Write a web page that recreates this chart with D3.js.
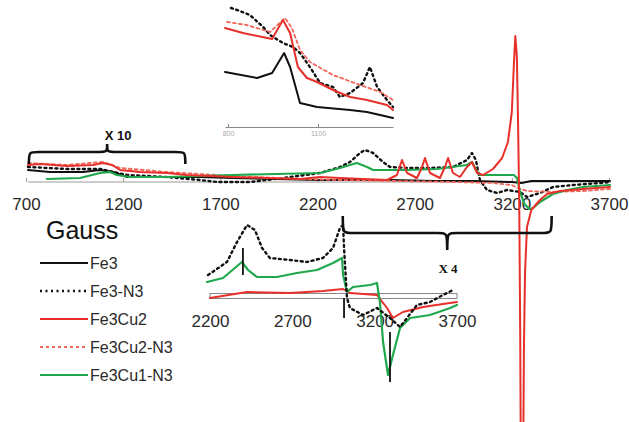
<!DOCTYPE html>
<html><head><meta charset="utf-8">
<script src="https://cdn.jsdelivr.net/npm/d3@7"></script>
<style>
html,body{margin:0;padding:0;background:#fff;}
svg{display:block;font-family:"Liberation Sans",Arial,sans-serif;}
</style></head>
<body>
<svg id="chart" width="629" height="422"></svg>
<script>
// ---------- DATA (Gauss, relative intensity) ----------
const seriesNames = ["Fe3","Fe3-N3","Fe3Cu2","Fe3Cu2-N3","Fe3Cu1-N3"];
const mainTicks = [700,1200,1700,2200,2700,3200,3700];
const topInsetTicks = [800,1100];
const bottomInsetTicks = [2200,2700,3200,3700];

// main spectrum
const mainFe3 = [[710,12],[824,10],[993,10],[1081,12],[1148,10],[1220,5],[1338,5],[1595,5],[1765,4],[2213,2],[2400,2],[2573,2],[2800,1],[3000,1],[3200,0],[3250,-1],[3300,1],[3450,1],[3600,1],[3705,1]];
const mainFe3N3 = [[710,15],[911,13],[1081,13],[1220,7],[1426,5],[1595,2],[1683,0],[1853,0],[2023,4],[2213,9],[2316,15],[2367,20],[2419,29],[2444,32],[2486,29],[2537,20],[2573,15],[2661,14],[2779,14],[2897,15],[2969,22],[2995,29],[3015,22],[3036,2],[3072,-8],[3124,-11],[3175,-8],[3242,-10],[3278,-15],[3345,-11],[3412,-5],[3515,-3],[3654,-1],[3705,0]];
const mainFe3Cu2 = [[710,17],[772,18],[911,16],[1045,17],[1096,19],[1143,17],[1184,12],[1287,10],[1426,9],[1529,7],[1765,5],[1940,4],[2110,3],[2213,5],[2316,4],[2558,2],[2609,7],[2635,22],[2661,9],[2712,4],[2738,15],[2753,24],[2779,9],[2830,4],[2856,15],[2872,24],[2897,9],[2933,5],[2969,15],[2995,20],[3021,9],[3052,7],[3103,13],[3150,24],[3180,40],[3200,70],[3210,115],[3218,146],[3226,125],[3232,60],[3238,-20],[3243,-150],[3247,-300],[3258,-300],[3262,-170],[3268,-90],[3278,-45],[3300,-28],[3345,-18],[3381,-12],[3448,-9],[3566,-7],[3705,-5]];
const mainFe3Cu2N3 = [[710,19],[911,17],[1096,20],[1184,14],[1426,10],[1765,6],[2110,3],[2316,2],[2600,1],[2900,0],[3100,-1],[3200,-3],[3230,-6],[3278,-9],[3400,-10],[3566,-9],[3705,-7]];
const mainFe3Cu1N3 = [[808,3],[978,4],[1081,9],[1132,10],[1168,7],[1235,5],[1426,5],[1595,6],[1765,7],[2213,9],[2316,14],[2367,17],[2403,19],[2455,15],[2486,12],[2661,12],[2815,13],[2969,17],[2995,20],[3021,10],[3036,7],[3150,7],[3210,7],[3227,4],[3242,-10],[3265,-22],[3290,-27],[3309,-26],[3345,-20],[3412,-12],[3484,-8],[3566,-5],[3705,-3]];

// top inset (low-field region, x10)
const topFe3 = [[790,55],[897,49],[947,54],[987,74],[1007,60],[1040,24],[1097,20],[1207,17],[1263,15],[1307,12],[1350,9]];
const topFe3N3 = [[810,119],[830,117],[873,112],[917,100],[940,92],[983,84],[1017,80],[1040,74],[1073,60],[1107,44],[1150,40],[1173,30],[1207,34],[1250,44],[1273,60],[1297,40],[1330,27],[1350,20]];
const topFe3Cu2 = [[790,99],[850,94],[947,88],[983,107],[1007,94],[1033,60],[1063,49],[1097,45],[1150,37],[1207,30],[1263,27],[1330,22],[1350,17]];
const topFe3Cu2N3 = [[797,105],[863,102],[940,95],[990,109],[1013,99],[1040,77],[1073,65],[1150,52],[1240,42],[1307,35],[1350,27]];

// bottom inset (x4)
const botFe3N3 = [[2188,21],[2303,34],[2364,54],[2425,71],[2473,66],[2516,48],[2564,38],[2686,36],[2789,34],[2886,38],[2947,48],[2989,68],[3008,71],[3014,48],[3032,-2],[3050,-12],[3129,-19],[3214,-12],[3293,-22],[3354,-31],[3396,-22],[3457,-9],[3536,-6],[3615,1],[3676,6]];
const botFe3Cu1N3 = [[2182,14],[2279,18],[2394,34],[2431,26],[2485,19],[2607,19],[2728,23],[2850,26],[2947,33],[3002,38],[3008,21],[3032,4],[3068,9],[3172,11],[3214,13],[3232,-6],[3251,-46],[3281,-79],[3311,-59],[3354,-32],[3415,-22],[3536,-19],[3658,-12],[3700,-9]];
const botFe3Cu2 = [[2200,-2],[2425,4],[2686,3],[2886,5],[3008,7],[3050,3],[3214,1],[3275,-12],[3311,-22],[3372,-16],[3494,-11],[3615,-8],[3700,-6]];
const botMarkers = [[2400,48,21],[3014,-2,-22],[3293,-36,-86]];

// ---------- STYLES ----------
const RED = "#e8302a", RED2 = "#f0675c", GREEN = "#1fa84c", BLACK = "#111";
const styles = {
  "Fe3":       {color:BLACK, dash:null, w:2},
  "Fe3-N3":    {color:BLACK, dash:"2,3.5", w:2.4},
  "Fe3Cu2":    {color:RED, dash:null, w:2},
  "Fe3Cu2-N3": {color:RED2, dash:"3,3", w:1.8},
  "Fe3Cu1-N3": {color:GREEN, dash:null, w:2.2}
};

const svg = d3.select("#chart");

// ---------- MAIN ----------
const x = d3.scaleLinear().domain([700,3700]).range([26,609]);
const y = d3.scaleLinear().domain([-100,100]).range([282,82]);
const axisY = 182;

function drawLine(g, data, sx, sy, name){
  const st = styles[name];
  g.append("path").datum(data)
   .attr("fill","none").attr("stroke",st.color).attr("stroke-width",st.w)
   .attr("stroke-linejoin","round").attr("stroke-linecap","round")
   .attr("stroke-dasharray",st.dash)
   .attr("d", d3.line().x(d=>sx(d[0])).y(d=>sy(d[1])));
}

// main axis
const mainAxis = svg.append("g").attr("transform",`translate(0,${axisY})`)
  .call(d3.axisBottom(x).tickValues(mainTicks).tickFormat(d3.format("d")).tickSizeInner(-4).tickSizeOuter(0));
mainAxis.select(".domain").attr("stroke","#999").attr("stroke-width",1.2)
  .attr("d",`M${x(710)},0H${x(3710)}`);
mainAxis.selectAll(".tick line").attr("stroke","#999");
mainAxis.selectAll(".tick text").attr("y",16).attr("font-size",17).attr("fill","#2a2a2a")
  .attr("font-family","Liberation Sans, Arial, sans-serif");

const gMain = svg.append("g");
drawLine(gMain, mainFe3, x, y, "Fe3");
drawLine(gMain, mainFe3N3, x, y, "Fe3-N3");
drawLine(gMain, mainFe3Cu2N3, x, y, "Fe3Cu2-N3");
drawLine(gMain, mainFe3Cu1N3, x, y, "Fe3Cu1-N3");
drawLine(gMain, mainFe3Cu2, x, y, "Fe3Cu2");

// ---------- TOP INSET ----------
const xt = d3.scaleLinear().domain([790,1350]).range([225,393]);
const yt = d3.scaleLinear().domain([0,127]).range([127,0]);
const topAxis = svg.append("g").attr("transform","translate(0,127)")
  .call(d3.axisBottom(xt).tickValues(topInsetTicks).tickFormat(d3.format("d")).tickSizeInner(-3).tickSizeOuter(0));
topAxis.select(".domain").attr("stroke","#8a8a8a").attr("stroke-width",1.2);
topAxis.selectAll(".tick line").attr("stroke","#8a8a8a");
topAxis.selectAll(".tick text").attr("y",4).attr("font-size",7).attr("fill","#aaa");
const gTop = svg.append("g");
drawLine(gTop, topFe3, xt, yt, "Fe3");
drawLine(gTop, topFe3N3, xt, yt, "Fe3-N3");
drawLine(gTop, topFe3Cu2N3, xt, yt, "Fe3Cu2-N3");
drawLine(gTop, topFe3Cu2, xt, yt, "Fe3Cu2");

// ---------- BOTTOM INSET ----------
const xb = d3.scaleLinear().domain([2200,3700]).range([210,457]);
const yb = d3.scaleLinear().domain([0,100]).range([296,196]);
svg.append("rect").attr("x",xb(2200)).attr("y",293.5).attr("width",xb(3700)-xb(2200)).attr("height",5)
  .attr("fill","none").attr("stroke","#888").attr("stroke-width",1);
const botAxis = svg.append("g").attr("transform","translate(0,299)")
  .call(d3.axisBottom(xb).tickValues(bottomInsetTicks).tickFormat(d3.format("d")).tickSize(0));
botAxis.select(".domain").remove();
botAxis.selectAll(".tick text").attr("y",16).attr("font-size",17).attr("fill","#2a2a2a")
  .attr("font-family","Liberation Sans, Arial, sans-serif");
const gBot = svg.append("g");
drawLine(gBot, botFe3Cu2, xb, yb, "Fe3Cu2");
drawLine(gBot, botFe3Cu1N3, xb, yb, "Fe3Cu1-N3");
drawLine(gBot, botFe3N3, xb, yb, "Fe3-N3");
gBot.selectAll("line.marker").data(botMarkers).enter().append("line")
  .attr("x1",d=>xb(d[0])).attr("x2",d=>xb(d[0]))
  .attr("y1",d=>yb(d[1])).attr("y2",d=>yb(d[2]))
  .attr("stroke","#111").attr("stroke-width",1.8);

// ---------- BRACES ----------
function brace(x1,x2,yy,s,h1,h2){
  const xm=(x1+x2)/2, r=10;
  return `M${x1},${yy-s*h1} C${x1},${yy} ${x1},${yy} ${x1+r},${yy} L${xm-r},${yy} C${xm},${yy} ${xm},${yy} ${xm},${yy+s*h2} `+
         `C${xm},${yy} ${xm},${yy} ${xm+r},${yy} L${x2-r},${yy} C${x2},${yy} ${x2},${yy} ${x2},${yy-s*h1}`;
}
svg.append("path").attr("d",brace(x(715),x(1520),152,-1,12,8))
  .attr("fill","none").attr("stroke","#111").attr("stroke-width",2.6);
svg.append("path").attr("d",brace(x(2330),x(3405),233,1,17,17))
  .attr("fill","none").attr("stroke","#111").attr("stroke-width",2.6);
svg.append("text").attr("x",118).attr("y",140).attr("text-anchor","middle")
  .attr("font-size",13).attr("font-weight","bold").attr("fill","#111").text("X 10");
svg.append("text").attr("x",448).attr("y",273).attr("text-anchor","middle")
  .attr("font-size",13).attr("font-weight","bold").attr("font-family","Liberation Serif, serif")
  .attr("fill","#111").text("X 4");

// ---------- LEGEND ----------
svg.append("text").attr("x",46).attr("y",239).attr("font-size",25).attr("fill","#111").text("Gauss");
const leg = svg.append("g");
seriesNames.forEach((n,i)=>{
  const yy = 263 + i*28;
  const st = styles[n];
  leg.append("line").attr("x1",40).attr("x2",88).attr("y1",yy).attr("y2",yy)
    .attr("stroke",st.color).attr("stroke-width",st.w).attr("stroke-dasharray",st.dash);
  leg.append("text").attr("x",90).attr("y",yy+6).attr("font-size",16).attr("fill","#2a2a2a").text(n);
});
</script>
</body></html>
